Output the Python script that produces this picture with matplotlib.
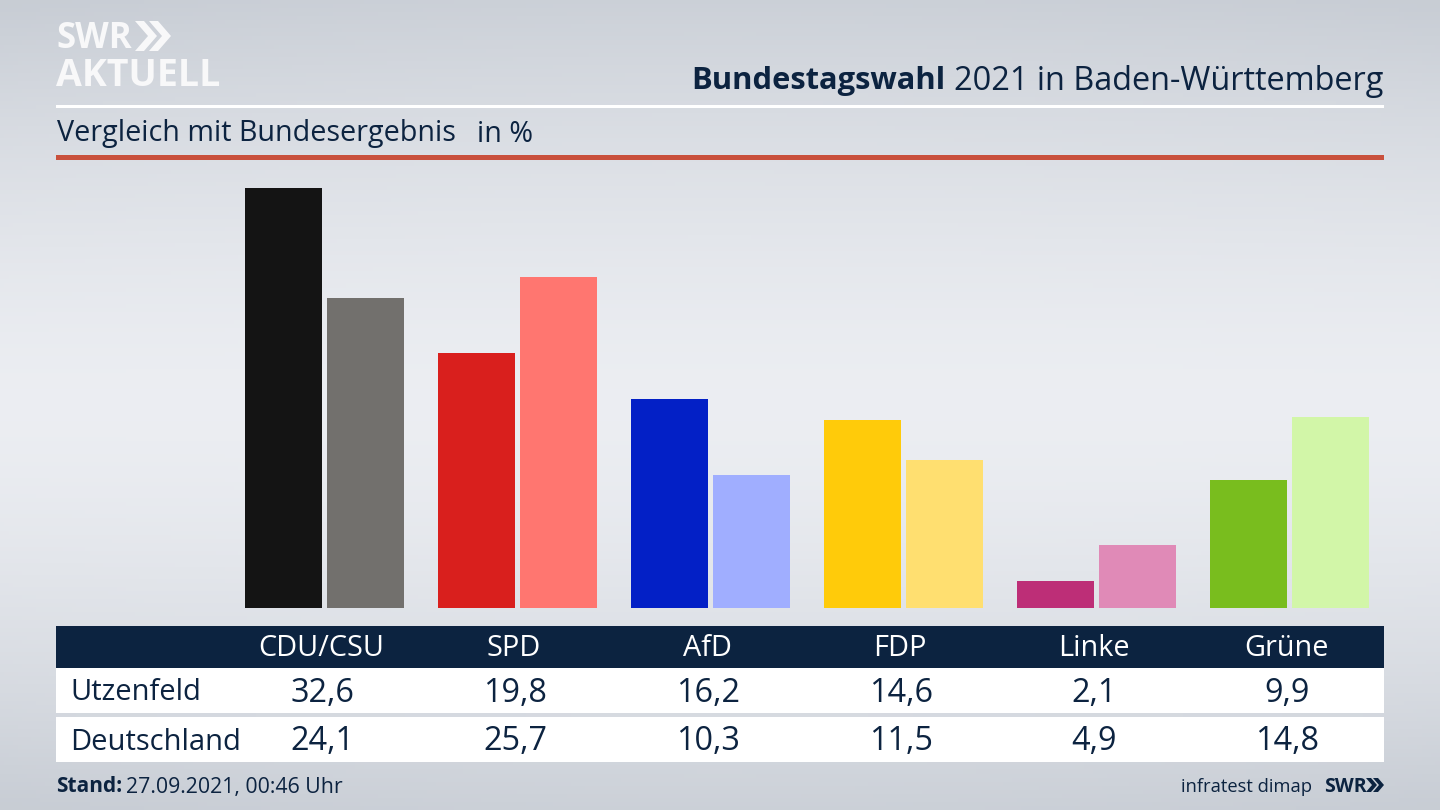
import numpy as np
import matplotlib
matplotlib.use("Agg")
import matplotlib.pyplot as plt
from matplotlib.patches import Rectangle, Polygon

parties = ["CDU/CSU", "SPD", "AfD", "FDP", "Linke", "Grüne"]
utzenfeld = [32.6, 19.8, 16.2, 14.6, 2.1, 9.9]
deutschland = [24.1, 25.7, 10.3, 11.5, 4.9, 14.8]
colors_a = ["#141414", "#d91f1d", "#0320c6", "#ffcb0a", "#bd2e77", "#79bd1e"]
colors_b = ["#72706d", "#ff7670", "#a0aeff", "#ffdf70", "#e08ab7", "#d2f6a8"]
row_names = ["Utzenfeld", "Deutschland"]

NAVY = "#0c2340"
FONT = "Open Sans"
plt.rcParams["font.family"] = [FONT, "DejaVu Sans"]

W, H = 1440, 810
fig = plt.figure(figsize=(W / 100, H / 100), dpi=100)

# background gradient + pixel-coordinate overlay
ov = fig.add_axes([0, 0, 1, 1])
ov.set_xlim(0, W)
ov.set_ylim(H, 0)
ov.axis("off")
yy, xx = np.mgrid[0:1:200j, 0:1:320j]
dist = np.clip(np.abs(yy - 0.5) * 2, 0, 1) ** 1.5
side = np.abs(xx - 0.5) * 2
t = np.clip(dist * 0.9 + 0.12 * side * side * dist, 0, 1)
light = np.array([0.925, 0.933, 0.950])
dark = np.array([0.785, 0.805, 0.835])
img = light[None, None, :] * (1 - t[..., None]) + dark[None, None, :] * t[..., None]
ov.imshow(img, extent=[0, W, H, 0], aspect="auto", zorder=0)

# header
ov.add_patch(Rectangle((56, 104.5), 1328, 3, color="white", lw=0, zorder=2))
ov.add_patch(Rectangle((56, 155), 1328, 5, color="#c9503c", lw=0, zorder=2))
ov.text(1383, 81, "2021 in Baden-Württemberg", ha="right", va="center", fontsize=23.4,
        color=NAVY, zorder=3)
ov.text(945, 81, "Bundestagswahl", ha="right", va="center", fontsize=22.2,
        fontweight="bold", color=NAVY, zorder=3)
ov.text(57, 134, "Vergleich mit Bundesergebnis", ha="left", va="center", fontsize=20.7,
        color=NAVY, zorder=3)
ov.text(477, 134, "in %", ha="left", va="center", fontsize=20.7, color=NAVY, zorder=3)

# logo
ov.text(56, 39, "SWR", ha="left", va="center", fontsize=25, fontweight="bold",
        color="#f8f8f9", zorder=3)
ov.text(56, 76, "AKTUELL", ha="left", va="center", fontsize=27, fontweight="bold",
        color="#f8f8f9", zorder=3)


def chevrons(x0, yc, h, w, th, gap, color):
    for k in range(2):
        x = x0 + k * gap
        ov.add_patch(Polygon([(x, yc - h), (x + th, yc - h), (x + th + w, yc), (x + th, yc + h),
                              (x, yc + h), (x + w, yc)], closed=True, color=color, lw=0, zorder=3))


chevrons(135, 36, 15, 13, 9, 14, "#f8f8f9")

# bars
ax = fig.add_axes([228 / W, 1 - 608 / H, 1158 / W, 420 / H])
ax.patch.set_alpha(0)
x = np.arange(len(parties))
bw = 77 / 193
off = 41 / 193
ax.bar(x - off, utzenfeld, bw, color=colors_a)
ax.bar(x + off, deutschland, bw, color=colors_b)
ax.set_xlim(-0.5, 5.5)
ax.set_ylim(0, 32.6)
ax.axis("off")

# table
ov.add_patch(Rectangle((56, 626), 1328, 42, color=NAVY, lw=0, zorder=2))
ov.add_patch(Rectangle((56, 668), 1328, 45, color="white", lw=0, zorder=2))
ov.add_patch(Rectangle((56, 717), 1328, 45, color="white", lw=0, zorder=2))
for i, p in enumerate(parties):
    cx = 321 + 193.1 * i
    ov.text(cx, 649, p, ha="center", va="center", fontsize=20.8, color="white", zorder=3)
    ov.text(cx + 1, 693, f"{utzenfeld[i]:.1f}".replace(".", ","), ha="center", va="center",
            fontsize=23.3, color=NAVY, zorder=3)
    ov.text(cx + 1, 742, f"{deutschland[i]:.1f}".replace(".", ","), ha="center", va="center",
            fontsize=23.3, color=NAVY, zorder=3)
ov.text(70, 693, row_names[0], ha="left", va="center", fontsize=21, color=NAVY, zorder=3)
ov.text(70, 742, row_names[1], ha="left", va="center", fontsize=21, color=NAVY, zorder=3)

# footer
ov.text(56, 787, "Stand:", ha="left", va="center", fontsize=15, fontweight="bold",
        color=NAVY, zorder=3)
ov.text(126, 787, "27.09.2021, 00:46 Uhr", ha="left", va="center", fontsize=15.3,
        color=NAVY, zorder=3)
ov.text(1312, 787, "infratest dimap", ha="right", va="center", fontsize=13.2, color=NAVY, zorder=3)
ov.text(1324, 787, "SWR", ha="left", va="center", fontsize=14, fontweight="bold",
        color=NAVY, zorder=3)
chevrons(1366, 785, 7, 6, 5, 7, NAVY)

fig.savefig("out.png", dpi=100)
